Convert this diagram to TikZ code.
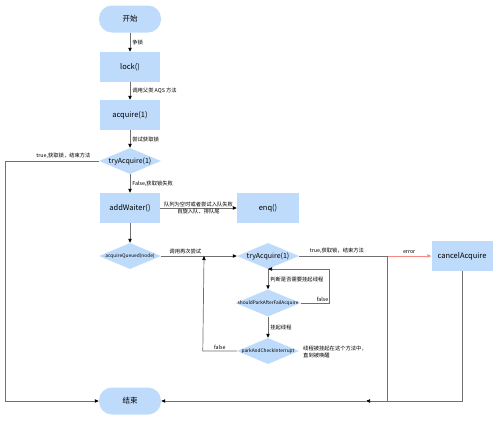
\documentclass[tikz,border=0pt]{standalone}
\usepackage{fontspec}
\setmainfont{Noto Sans CJK SC}
\usetikzlibrary{arrows.meta, positioning, shapes.geometric, calc}
\definecolor{boxblue}{HTML}{BFDBFB}
\definecolor{lngray}{HTML}{707070}
\definecolor{errred}{HTML}{F58A84}

\begin{document}
\begin{tikzpicture}[x=1pt, y=-1pt,
  term/.style={rectangle, rounded corners=13pt,
    minimum width=62pt, minimum height=27pt,
    fill=boxblue, font=\fontsize{7.5}{9}\selectfont},
  proc/.style={rectangle,
    minimum width=60pt, minimum height=30pt,
    fill=boxblue, font=\fontsize{7.5}{9}\selectfont},
  dec/.style={diamond, inner sep=0pt,
    minimum width=62pt, minimum height=26pt, fill=boxblue},
  dlbl/.style={font=\fontsize{7}{8}\selectfont, inner sep=0pt},
  slbl/.style={font=\fontsize{4.8}{6}\selectfont, inner sep=0pt},
  elbl/.style={font=\fontsize{5.3}{7}\selectfont, inner sep=2pt},
  ln/.style={draw=lngray, line width=0.7pt},
  ar/.style={ln, -{Triangle[length=4pt, width=3.4pt, color=black]}},
  arred/.style={draw=errred, line width=0.7pt,
    -{Triangle[length=4pt, width=3.4pt, color=errred]}}
]
  \useasboundingbox[fill=white] (0,0) rectangle (500,423);

  \node[term] (start) at (130, 19) {开始};
  \node[proc] (lock) at (130, 67) {lock()};
  \node[proc] (acq) at (130,115) {acquire(1)};
  \node[dec, label={[dlbl]center:tryAcquire(1)}] (try1) at (130,161) {};
  \node[proc] (addw) at (130,208) {addWaiter()};
  \node[proc, minimum width=62pt] (enq) at (268,208) {enq()};
  \node[dec, label={[slbl]center:acquireQueued(node)}] (acqq) at (130,256) {};
  \node[dec, label={[dlbl]center:tryAcquire(1)}] (try2) at (268,256) {};
  \node[proc, minimum width=61pt] (cancel) at (462,256) {cancelAcquire};
  \node[dec, minimum width=65pt, minimum height=27pt,
    label={[slbl]center:shouldParkAfterFailAcquire}] (spark) at (268,303) {};
  \node[dec, label={[slbl]center:parkAndCheckInterrupt}] (park) at (268,351) {};
  \node[term] (stop) at (130,401) {结束};

  \node[elbl, align=left, anchor=west] (note) at (301,352)
    {线程被挂起在这个方法中，\\直到被唤醒};

  \coordinate (j1) at (387,256);
  \coordinate (j2) at (387,401);
  \coordinate (mid) at (366,401);
  \coordinate (lp) at (268,269);
  \coordinate (back) at (204,256);

  \draw[ar] (start) -- node[elbl, right] {争锁} (lock);
  \draw[ar] (lock) -- node[elbl, right] {调用父类 AQS 方法} (acq);
  \draw[ar] (acq) -- node[elbl, right] {尝试获取锁} (try1);
  \draw[ar] (try1.west) -- node[elbl, above, pos=0.38] {true,获取锁，结束方法}
    ++(-93,0) |- (stop.west);
  \draw[ar] (try1) -- node[elbl, right] {False,获取锁失败} (addw);
  \draw[ar] (addw) -- node[elbl, above, inner sep=1pt] {队列为空时或者尝试入队失败}
    node[elbl, below, inner sep=1pt] {自旋入队、排队尾} (enq);
  \draw[ar] (addw) -- (acqq);
  \draw[ar] (acqq) -- node[elbl, above, pos=0.32] {调用再次尝试} (try2);
  \draw[ln] (try2.east) -- node[elbl, above, pos=0.43] {true,获取锁，结束方法} (j1);
  \draw[arred] (j1) -- node[elbl, above, pos=0.5] {error} (cancel);
  \draw[ln] (j1) -- (j2);
  \draw[ar] (cancel) |- (mid);
  \draw[ar] (mid) -- (stop);
  \draw[ar] (try2) -- node[elbl, right] {判断是否需要挂起线程} (spark);
  \draw[ar] (spark.east) -- ++(29,0) node[elbl, above left, inner sep=1pt] {false} |- (lp);
  \draw[ar] (spark) -- node[elbl, right] {挂起线程} (park);
  \draw[ar] (park.west) -- node[elbl, above, inner sep=1pt] {false} ++(-34,0) -- (back);
\end{tikzpicture}
\end{document}
